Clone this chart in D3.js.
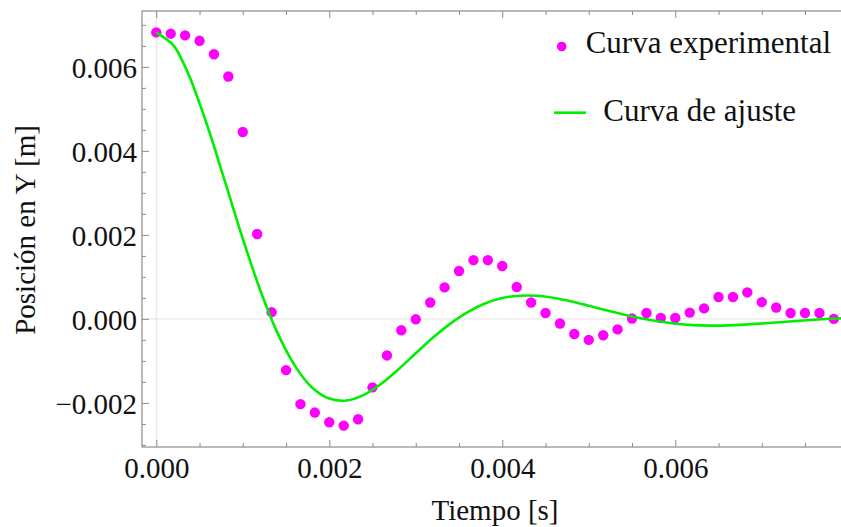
<!DOCTYPE html>
<html>
<head>
<meta charset="utf-8">
<script src="https://cdn.jsdelivr.net/npm/d3@7"></script>
<style>
  html, body { margin: 0; padding: 0; background: #fff; }
  svg { display: block; }
  text { font-family: "Liberation Serif", "Times New Roman", serif; fill: #111; }
</style>
</head>
<body>
<svg id="chart" width="841" height="527"></svg>
<script>
// ---- Data ----
const expTime = [0, 0.000167, 0.000333, 0.000500, 0.000667, 0.000833, 0.001000, 0.001167,
  0.001333, 0.001500, 0.001667, 0.001833, 0.002000, 0.002167, 0.002333, 0.002500,
  0.002667, 0.002833, 0.003000, 0.003167, 0.003333, 0.003500, 0.003667, 0.003833,
  0.004000, 0.004167, 0.004333, 0.004500, 0.004667, 0.004833, 0.005000, 0.005167,
  0.005333, 0.005500, 0.005667, 0.005833, 0.006000, 0.006167, 0.006333, 0.006500,
  0.006667, 0.006833, 0.007000, 0.007167, 0.007333, 0.007500, 0.007667, 0.007833];
const expPos = [0.00682, 0.00679, 0.00675, 0.00662, 0.00630, 0.00577, 0.00445, 0.00202,
  0.00016, -0.00122, -0.00203, -0.00223, -0.00246, -0.00254, -0.00239, -0.00163,
  -0.00087, -0.00027, -0.00001, 0.00039, 0.00075, 0.00114, 0.00140, 0.00140,
  0.00126, 0.00076, 0.00039, 0.00014, -0.00011, -0.00036, -0.00050, -0.00039,
  -0.00025, 0.00001, 0.00014, 0.00002, 0.00002, 0.00015, 0.00025, 0.00052,
  0.00052, 0.00063, 0.00040, 0.00027, 0.00014, 0.00014, 0.00014, 0.00000];

const fitTime = [0, 0.0002, 0.0003, 0.0004, 0.0006, 0.0008, 0.0010, 0.0012, 0.0014, 0.0016,
  0.0018, 0.0020, 0.0022, 0.0024, 0.0026, 0.0028, 0.0030, 0.0032, 0.0034, 0.0036,
  0.0038, 0.0040, 0.0042, 0.0044, 0.0046, 0.0048, 0.0050, 0.0052, 0.0054, 0.0056,
  0.0058, 0.0060, 0.0062, 0.0064, 0.0066, 0.0068, 0.0070, 0.0072, 0.0074, 0.0076,
  0.0078, 0.0080];
const fitPos = [0.006820, 0.006508, 0.006150, 0.005689, 0.004539, 0.003230, 0.001909, 0.000695,
  -0.000327, -0.001106, -0.001632, -0.001897, -0.001942, -0.001808, -0.001544, -0.001199,
  -0.000818, -0.000445, -0.000112, 0.000162, 0.000365, 0.000495, 0.000552, 0.000550,
  0.000499, 0.000416, 0.000314, 0.000208, 0.000106, 0.000017, -0.000058, -0.000114,
  -0.000149, -0.000161, -0.000154, -0.000137, -0.000111, -0.000081, -0.000050, -0.000022,
  0.000002, 0.000021];

const xMajorTicks = [0, 0.002, 0.004, 0.006];
const xTickLabels = ["0.000", "0.002", "0.004", "0.006"];
const yMajorTicks = [-0.002, 0, 0.002, 0.004, 0.006];
const yTickLabels = ["\u22120.002", "0.000", "0.002", "0.004", "0.006"];
const xMinorTicks = [0.0005, 0.001, 0.0015, 0.0025, 0.003, 0.0035, 0.0045, 0.005, 0.0055, 0.0065, 0.007, 0.0075];
const yMinorTicks = [-0.003, -0.0025, -0.0015, -0.001, -0.0005, 0.0005, 0.001, 0.0015, 0.0025, 0.003, 0.0035, 0.0045, 0.005, 0.0055, 0.0065, 0.007];
const legendLabels = ["Curva experimental", "Curva de ajuste"];
const xTitle = "Tiempo [s]";
const yTitle = "Posición en Y [m]";

// ---- Layout ----
const svg = d3.select("#chart");
const pLeft = 142, pTop = 11, pBottom = 447, pRight = 850;
const FS = 29, LFS = 31;
const magenta = "#ff00ff", green = "#00ee00", frameCol = "#8c8c8c";

const x = d3.scaleLinear().domain([-0.000165, 0.00802]).range([pLeft, pRight]);
const y = d3.scaleLinear().domain([-0.00305, 0.00733]).range([pBottom, pTop]);

svg.append("defs").append("clipPath").attr("id", "clip")
  .append("rect").attr("x", pLeft).attr("y", pTop).attr("width", pRight - pLeft).attr("height", pBottom - pTop);

// zero lines
svg.append("line").attr("x1", pLeft).attr("x2", pRight).attr("y1", y(0)).attr("y2", y(0))
  .attr("stroke", "#e2e2e2").attr("stroke-width", 1);
svg.append("line").attr("x1", x(0)).attr("x2", x(0)).attr("y1", pTop).attr("y2", pBottom)
  .attr("stroke", "#e2e2e2").attr("stroke-width", 1);

const plot = svg.append("g").attr("clip-path", "url(#clip)");

// data points
plot.selectAll("circle.pt").data(expTime.map((t, i) => [t, expPos[i]])).enter()
  .append("circle").attr("class", "pt")
  .attr("cx", d => x(d[0])).attr("cy", d => y(d[1])).attr("r", 5.2)
  .attr("fill", magenta);

// fit curve
const line = d3.line().x(d => x(d[0])).y(d => y(d[1])).curve(d3.curveCatmullRom.alpha(0.5));
plot.append("path").datum(fitTime.map((t, i) => [t, fitPos[i]]))
  .attr("d", line).attr("fill", "none").attr("stroke", green).attr("stroke-width", 2.6);

// ---- Axes ----
function styleAxis(g) {
  g.select(".domain").remove();
  g.selectAll(".tick line").attr("stroke", frameCol).attr("stroke-width", 1);
  g.selectAll("text").style("font-size", FS + "px").style("font-family", '"Liberation Serif", serif').attr("fill", "#111");
}

// bottom
svg.append("g").attr("transform", `translate(0,${pBottom})`)
  .call(d3.axisBottom(x).tickValues(xMajorTicks).tickFormat((d, i) => xTickLabels[i])
    .tickSizeInner(-7).tickSizeOuter(0).tickPadding(10)).call(styleAxis);
svg.append("g").attr("transform", `translate(0,${pBottom})`)
  .call(d3.axisBottom(x).tickValues(xMinorTicks).tickFormat("").tickSizeInner(-4).tickSizeOuter(0)).call(styleAxis);
// top
svg.append("g").attr("transform", `translate(0,${pTop})`)
  .call(d3.axisTop(x).tickValues(xMajorTicks).tickFormat("").tickSizeInner(-7).tickSizeOuter(0)).call(styleAxis);
svg.append("g").attr("transform", `translate(0,${pTop})`)
  .call(d3.axisTop(x).tickValues(xMinorTicks).tickFormat("").tickSizeInner(-4).tickSizeOuter(0)).call(styleAxis);
// left
const yAx = svg.append("g").attr("transform", `translate(${pLeft},0)`)
  .call(d3.axisLeft(y).tickValues(yMajorTicks).tickFormat((d, i) => yTickLabels[i])
    .tickSizeInner(-7).tickSizeOuter(0).tickPadding(5)).call(styleAxis);
yAx.selectAll("text").attr("dy", "0.36em");
svg.append("g").attr("transform", `translate(${pLeft},0)`)
  .call(d3.axisLeft(y).tickValues(yMinorTicks).tickFormat("").tickSizeInner(-4).tickSizeOuter(0)).call(styleAxis);

// frame
svg.append("rect").attr("x", pLeft).attr("y", pTop).attr("width", pRight - pLeft).attr("height", pBottom - pTop)
  .attr("fill", "none").attr("stroke", frameCol).attr("stroke-width", 1.2);

// axis titles
svg.append("text").attr("x", 495).attr("y", 520).attr("text-anchor", "middle")
  .style("font-size", FS + "px").text(xTitle);
svg.append("text").attr("transform", `translate(35,230) rotate(-90)`).attr("text-anchor", "middle")
  .style("font-size", FS + "px").text(yTitle);

// legend
svg.append("circle").attr("cx", 561.7).attr("cy", 46.5).attr("r", 4.8).attr("fill", magenta);
svg.append("text").attr("x", 585.7).attr("y", 53).style("font-size", LFS + "px").text(legendLabels[0]);
svg.append("line").attr("x1", 554).attr("x2", 586).attr("y1", 112.7).attr("y2", 112.7)
  .attr("stroke", green).attr("stroke-width", 2.6);
svg.append("text").attr("x", 603.3).attr("y", 120.5).style("font-size", LFS + "px").text(legendLabels[1]);
</script>
</body>
</html>
